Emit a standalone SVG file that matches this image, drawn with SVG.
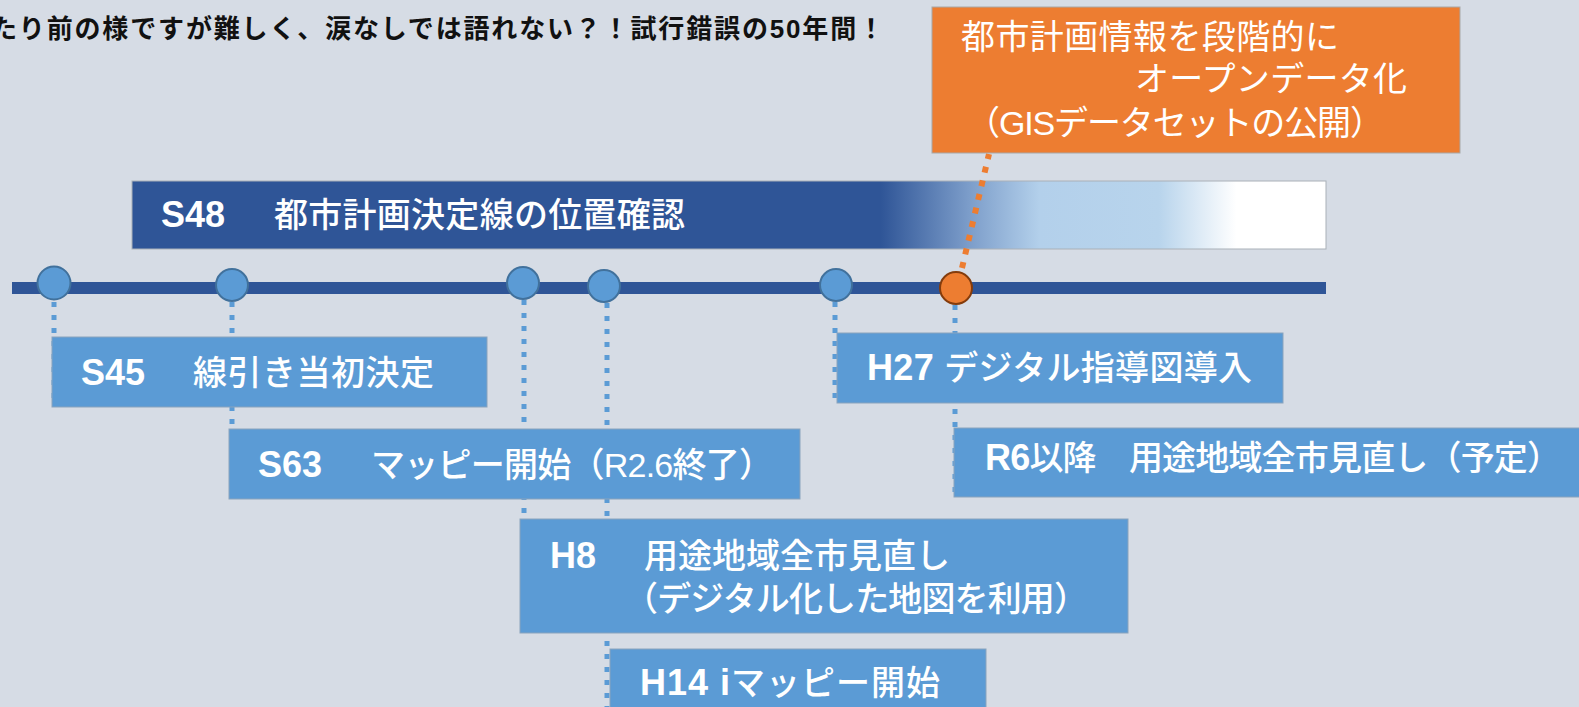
<svg xmlns="http://www.w3.org/2000/svg" width="1579" height="707" viewBox="0 0 1579 707">
<defs>
<linearGradient id="barGrad" x1="132" y1="0" x2="1326" y2="0" gradientUnits="userSpaceOnUse">
<stop offset="0" stop-color="#2f5597"/>
<stop offset="0.627" stop-color="#2f5597"/>
<stop offset="0.70" stop-color="#7b9cc9"/>
<stop offset="0.76" stop-color="#b3d0eb"/>
<stop offset="0.86" stop-color="#b8d4ec"/>
<stop offset="0.925" stop-color="#ffffff"/>
<stop offset="1" stop-color="#ffffff"/>
</linearGradient>
</defs>
<style>
.box{fill:#5b9bd5;stroke:#8aa3bd;stroke-width:1}
.wt{fill:#ffffff;font-family:"Liberation Sans","Noto Sans CJK JP",sans-serif;font-size:34px;font-weight:500}
.code{font-weight:700;font-size:36px}
.op{font-weight:400;font-size:34px}
.dot{fill:none;stroke:#5b9bd5;stroke-width:5;stroke-dasharray:5 8}
.dotO{fill:none;stroke:#ed7d31;stroke-width:6;stroke-dasharray:6 8}
.nb{fill:#5b9bd5;stroke:#41719c;stroke-width:2}
.no{fill:#ed7d31;stroke:#843c0c;stroke-width:2}
</style>
<rect x="0" y="0" width="1579" height="707" fill="#d6dce5"/>

<text id="title" x="-9" y="38" textLength="893" font-family="'Liberation Sans','Noto Sans CJK JP',sans-serif" font-size="26" font-weight="700" fill="#111111">たり前の様ですが難しく、涙なしでは語れない？！試行錯誤の50年間！</text>

<g id="s48-bar">
<rect x="132" y="181" width="1194" height="68" fill="url(#barGrad)" stroke="#a9b0b8" stroke-width="1"/>
<text class="wt code" x="161" y="227">S48</text>
<text class="wt" x="274" y="227" textLength="411">都市計画決定線の位置確認</text>
</g>

<g id="timeline">
<rect x="12" y="282" width="1314" height="12" fill="#2f5597"/>
</g>

<g id="connectors">
<line class="dot" x1="54" y1="302" x2="54" y2="405"/>
<line class="dot" x1="232" y1="302" x2="232" y2="497"/>
<line class="dot" x1="524" y1="300" x2="524" y2="632"/>
<line class="dot" x1="607" y1="303" x2="607" y2="707"/>
<line class="dot" x1="835" y1="302" x2="835" y2="401"/>
<line class="dot" x1="955" y1="305" x2="955" y2="497"/>
</g>

<g id="node-s45-dot"><circle class="nb" cx="54" cy="283" r="16.5"/></g>
<g id="node-s63-dot"><circle class="nb" cx="232" cy="285" r="16"/></g>
<g id="node-h8-dot"><circle class="nb" cx="523" cy="283" r="16"/></g>
<g id="node-h14-dot"><circle class="nb" cx="604" cy="286" r="16"/></g>
<g id="node-h27-dot"><circle class="nb" cx="836" cy="285" r="16"/></g>

<g id="connector-open">
<line class="dotO" x1="962" y1="268" x2="989" y2="154"/>
</g>
<g id="node-open-dot"><circle class="no" cx="956" cy="288" r="16"/></g>

<g id="node-open">
<rect x="932" y="7" width="528" height="146" fill="#ed7d31" stroke="#a8a8a8" stroke-width="1"/>
<text class="wt op" x="961" y="49" textLength="378">都市計画情報を段階的に</text>
<text class="wt op" x="1135" y="91" textLength="272">オープンデータ化</text>
<text class="wt op" x="966" y="135" textLength="418">（GISデータセットの公開）</text>
</g>

<g id="node-s45">
<rect class="box" x="52" y="337" width="435" height="70"/>
<text class="wt code" x="81" y="385">S45</text>
<text class="wt" x="193" y="385" textLength="241">線引き当初決定</text>
</g>

<g id="node-s63">
<rect class="box" x="229" y="429" width="571" height="70"/>
<text class="wt code" x="258" y="477">S63</text>
<text class="wt" x="371" y="477" textLength="402">マッピー開始（R2.6終了）</text>
</g>

<g id="node-h8">
<rect class="box" x="520" y="519" width="608" height="114"/>
<text class="wt code" x="550" y="568">H8</text>
<text class="wt" x="644" y="568" textLength="306">用途地域全市見直し</text>
<text class="wt" x="624" y="611" textLength="464">（デジタル化した地図を利用）</text>
</g>

<g id="node-h14">
<rect class="box" x="610" y="649" width="376" height="70"/>
<text class="wt" x="640" y="695" textLength="300"><tspan class="code" font-size="34">H14  i</tspan>マッピー開始</text>
</g>

<g id="node-h27">
<rect class="box" x="837" y="333" width="446" height="70"/>
<text class="wt" x="867" y="380" textLength="385"><tspan class="code" font-size="34">H27 </tspan>デジタル指導図導入</text>
</g>

<g id="node-r6">
<rect class="box" x="954" y="428" width="640" height="69"/>
<text class="wt" x="985" y="470" textLength="576"><tspan class="code" font-size="34">R6</tspan>以降　用途地域全市見直し（予定）</text>
</g>
</svg>
